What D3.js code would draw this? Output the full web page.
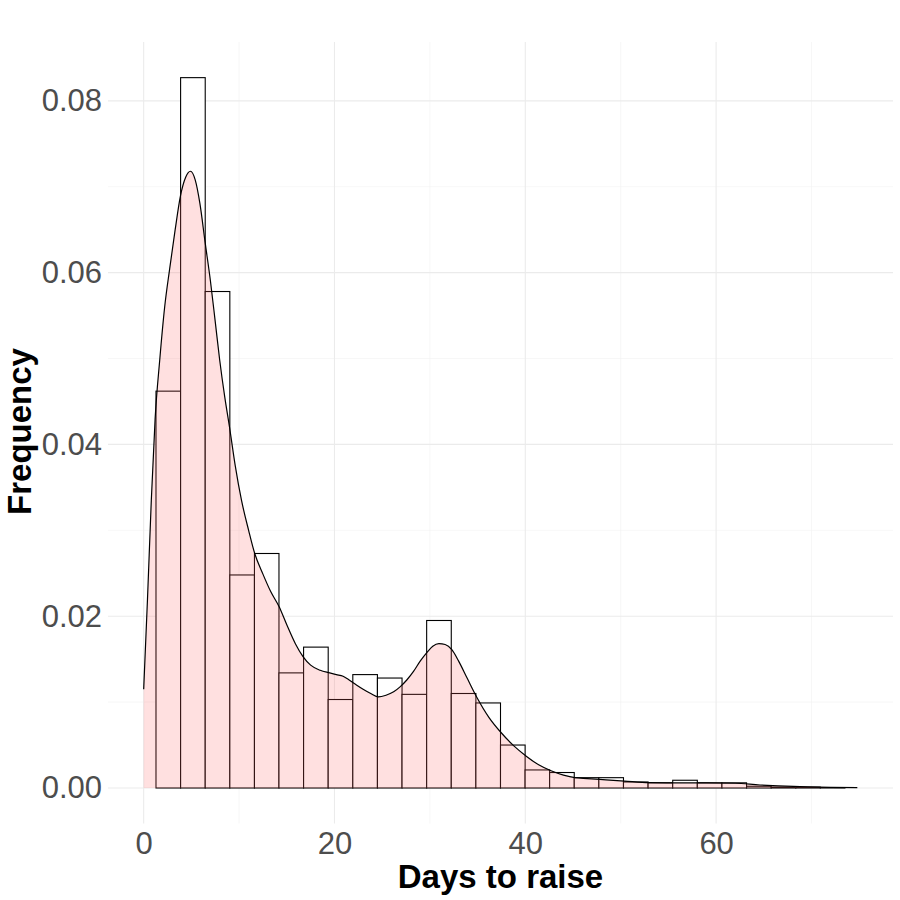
<!DOCTYPE html>
<html>
<head>
<meta charset="utf-8">
<script src="https://cdn.jsdelivr.net/npm/d3@7"></script>
<style>
  html, body { margin: 0; padding: 0; background: #ffffff; }
  svg { display: block; }
</style>
</head>
<body>
<svg id="chart" width="900" height="900"></svg>
<script>
// ---- data ----
const binStarts = [1.29, 3.87, 6.45, 9.03, 11.61, 14.18, 16.76, 19.34, 21.92, 24.50,
                   27.08, 29.66, 32.24, 34.82, 37.40, 39.98, 42.55, 45.13, 47.71, 50.29,
                   52.87, 55.45, 58.03, 60.61, 63.19, 65.77, 68.35, 70.92];
const binEnds   = [3.87, 6.45, 9.03, 11.61, 14.18, 16.76, 19.34, 21.92, 24.50, 27.08,
                   29.66, 32.24, 34.82, 37.40, 39.98, 42.55, 45.13, 47.71, 50.29, 52.87,
                   55.45, 58.03, 60.61, 63.19, 65.77, 68.35, 70.92, 73.50];
const binDensity = [0.0462, 0.0827, 0.0578, 0.0248, 0.0273, 0.0134, 0.0164, 0.0103, 0.0132, 0.0128,
                    0.0109, 0.0195, 0.0110, 0.0099, 0.0050, 0.0021, 0.0018, 0.0012, 0.0012, 0.0007,
                    0.0006, 0.0009, 0.0006, 0.0006, 0.0002, 0.0001, 0.0001, 0.00005];

const densityX = [0, 0.4, 0.8, 1.2, 1.68, 2.2, 2.73, 3.3, 3.85, 4.4, 4.9, 5.4, 5.9, 6.43, 7.0, 7.5,
                  7.97, 8.5, 9.0, 9.6, 10.25, 11.0, 11.64, 12.5, 13.3, 14.2, 15.0, 15.9, 16.7, 17.5,
                  18.5, 19.5, 20.2, 20.9, 21.5, 22.3, 23.0, 23.8, 24.6, 25.4, 26.2, 26.9, 27.6, 28.3,
                  29.0, 29.7, 30.3, 30.95, 31.6, 32.3, 33.0, 33.9, 34.9, 36.2, 37.5, 38.8, 40.1, 41.4,
                  42.7, 44.0, 45.2, 46.5, 47.8, 50.4, 53.0, 56, 59, 62, 64.6, 66.5, 68.8, 72, 74.8];
const densityY = [0.0115, 0.022, 0.0335, 0.043, 0.0498, 0.056, 0.0605, 0.065, 0.0689, 0.0711, 0.0718,
                  0.0708, 0.0680, 0.0636, 0.0590, 0.0543, 0.0498, 0.0455, 0.0420, 0.0375, 0.0335,
                  0.0300, 0.0273, 0.0249, 0.0229, 0.0211, 0.0190, 0.0168, 0.0153, 0.0143, 0.0137,
                  0.0134, 0.0132, 0.0130, 0.0126, 0.0120, 0.0115, 0.0110, 0.0106, 0.0108, 0.0112,
                  0.0118, 0.0126, 0.0136, 0.0148, 0.0158, 0.0165, 0.0168, 0.0167, 0.0161, 0.0148,
                  0.0128, 0.0106, 0.0082, 0.0064, 0.0049, 0.0037, 0.0027, 0.0020, 0.0015, 0.0012,
                  0.0011, 0.0010, 0.0008, 0.00062, 0.0006, 0.0006, 0.00055, 0.00035, 0.00025,
                  0.00017, 0.00008, 0.00004];

const xMajorTicks = [0, 20, 40, 60];
const xMinorTicks = [10, 30, 50, 70];
const yMajorTicks = [0, 0.02, 0.04, 0.06, 0.08];
const yMinorTicks = [0.01, 0.03, 0.05, 0.07];
const xTitle = "Days to raise";
const yTitle = "Frequency";

// ---- layout ----
const panel = { left: 108, right: 893, top: 42, bottom: 823.5 };
const x = d3.scaleLinear().domain([-3.74, 78.54]).range([panel.left, panel.right]);
const y = d3.scaleLinear().domain([-0.004135, 0.08685]).range([panel.bottom, panel.top]);

const svg = d3.select("#chart");
const font = "'Liberation Sans', Arial, Helvetica, sans-serif";

// grid
const grid = svg.append("g");
grid.selectAll("line.xmin").data(xMinorTicks).join("line")
  .attr("x1", d => x(d)).attr("x2", d => x(d))
  .attr("y1", panel.top).attr("y2", panel.bottom)
  .attr("stroke", "#F2F2F2").attr("stroke-width", 0.6);
grid.selectAll("line.ymin").data(yMinorTicks).join("line")
  .attr("y1", d => y(d)).attr("y2", d => y(d))
  .attr("x1", panel.left).attr("x2", panel.right)
  .attr("stroke", "#F2F2F2").attr("stroke-width", 0.6);
grid.selectAll("line.xmaj").data(xMajorTicks).join("line")
  .attr("x1", d => x(d)).attr("x2", d => x(d))
  .attr("y1", panel.top).attr("y2", panel.bottom)
  .attr("stroke", "#EBEBEB").attr("stroke-width", 1.1);
grid.selectAll("line.ymaj").data(yMajorTicks).join("line")
  .attr("y1", d => y(d)).attr("y2", d => y(d))
  .attr("x1", panel.left).attr("x2", panel.right)
  .attr("stroke", "#EBEBEB").attr("stroke-width", 1.1);

// histogram
const bins = binStarts.map((s, i) => ({ x0: s, x1: binEnds[i], d: binDensity[i] }));
svg.append("g").selectAll("rect").data(bins).join("rect")
  .attr("x", d => x(d.x0))
  .attr("width", d => x(d.x1) - x(d.x0))
  .attr("y", d => y(d.d))
  .attr("height", d => y(0) - y(d.d))
  .attr("fill", "#ffffff")
  .attr("stroke", "#000000")
  .attr("stroke-width", 1.1);

// density
const dens = densityX.map((v, i) => ({ x: v, y: densityY[i] }));
const area = d3.area().x(d => x(d.x)).y0(y(0)).y1(d => y(d.y)).curve(d3.curveMonotoneX);
const line = d3.line().x(d => x(d.x)).y(d => y(d.y)).curve(d3.curveMonotoneX);
svg.append("path").datum(dens).attr("d", area)
  .attr("fill", "#FF6666").attr("fill-opacity", 0.2).attr("stroke", "none");
svg.append("path").datum(dens).attr("d", line)
  .attr("fill", "none").attr("stroke", "#000000").attr("stroke-width", 1.2);

// axes
const xAxis = d3.axisBottom(x).tickValues(xMajorTicks).tickSize(0).tickPadding(0).tickFormat(d3.format("d"));
const gx = svg.append("g").attr("transform", `translate(0, ${panel.bottom + 8})`).call(xAxis);
gx.select(".domain").remove();
gx.selectAll("text").attr("font-family", font).attr("font-size", 31).attr("fill", "#4D4D4D")
  .attr("dy", "0.71em");

const yAxis = d3.axisLeft(y).tickValues(yMajorTicks).tickSize(0).tickPadding(0).tickFormat(d3.format(".2f"));
const gy = svg.append("g").attr("transform", `translate(${panel.left - 6}, 0)`).call(yAxis);
gy.select(".domain").remove();
gy.selectAll("text").attr("font-family", font).attr("font-size", 31).attr("fill", "#4D4D4D");

// titles
svg.append("text").attr("x", x(37.4)).attr("y", 888).attr("text-anchor", "middle")
  .attr("font-family", font).attr("font-size", 33).attr("font-weight", "bold").attr("fill", "#000")
  .text(xTitle);
svg.append("text").attr("transform", `translate(31, ${y(0.0415)}) rotate(-90)`)
  .attr("text-anchor", "middle")
  .attr("font-family", font).attr("font-size", 33).attr("font-weight", "bold").attr("fill", "#000")
  .text(yTitle);
</script>
</body>
</html>
